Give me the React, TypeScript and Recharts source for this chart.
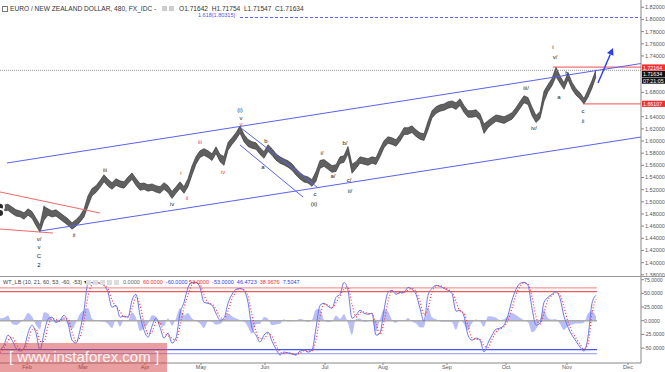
import React from 'react';
import { ComposedChart, Area, Line, XAxis, YAxis, ReferenceLine, ReferenceDot } from 'recharts';

// EUR/NZD 8h chart, bars bucketed in pairs of days; x is the bar slot
const lows = [
  1.4815, 1.4850, 1.4860, 1.4810, 1.4765, 1.4755, 1.4715, 1.4780, 1.4730, 1.4610,
  1.4500, 1.4700, 1.4780, 1.4750, 1.4765, 1.4715, 1.4665, 1.4615, 1.4550, 1.4600,
  1.4665, 1.4750, 1.4930, 1.5100, 1.5155, 1.5235, 1.5330, 1.5255, 1.5205, 1.5270,
  1.5240, 1.5225, 1.5300, 1.5370, 1.5270, 1.5190, 1.5205, 1.5175, 1.5190, 1.5160,
  1.5140, 1.5205, 1.5155, 1.5055, 1.5140, 1.5220, 1.5140, 1.5250, 1.5440, 1.5620,
  1.5730, 1.5765, 1.5730, 1.5680, 1.5795, 1.5660, 1.5600, 1.5850, 1.5945, 1.6025,
  1.6130, 1.5990, 1.5910, 1.5880, 1.5865, 1.5780, 1.5715, 1.5830, 1.5765, 1.5685,
  1.5635, 1.5605, 1.5570, 1.5520, 1.5440, 1.5375, 1.5325, 1.5310, 1.5255, 1.5340,
  1.5550, 1.5585, 1.5535, 1.5485, 1.5500, 1.5630, 1.5650, 1.5790, 1.5470, 1.5550,
  1.5635, 1.5620, 1.5600, 1.5635, 1.5615, 1.5740, 1.5890, 1.5965, 1.5945, 1.5915,
  1.5995, 1.6105, 1.6110, 1.6140, 1.6075, 1.6030, 1.6010, 1.6180, 1.6380, 1.6455,
  1.6490, 1.6505, 1.6540, 1.6555, 1.6520, 1.6585, 1.6470, 1.6390, 1.6390, 1.6405,
  1.6340, 1.6125, 1.6220, 1.6275, 1.6325, 1.6310, 1.6290, 1.6325, 1.6360, 1.6440,
  1.6535, 1.6630, 1.6600, 1.6420, 1.6305, 1.6370, 1.6650, 1.6810, 1.6910, 1.7060,
  1.6950, 1.6850, 1.7010, 1.6850, 1.6755, 1.6690, 1.6611, 1.6720, 1.6870, 1.7060,
];
const highs = [
  1.4920, 1.4945, 1.4960, 1.4915, 1.4870, 1.4850, 1.4820, 1.4885, 1.4840, 1.4730,
  1.4620, 1.4925, 1.4885, 1.4850, 1.4870, 1.4820, 1.4770, 1.4720, 1.4655, 1.4705,
  1.4775, 1.4880, 1.5100, 1.5220, 1.5265, 1.5350, 1.5445, 1.5370, 1.5315, 1.5380,
  1.5345, 1.5330, 1.5410, 1.5475, 1.5385, 1.5300, 1.5310, 1.5280, 1.5295, 1.5265,
  1.5250, 1.5315, 1.5265, 1.5170, 1.5250, 1.5330, 1.5250, 1.5380, 1.5590, 1.5745,
  1.5840, 1.5875, 1.5840, 1.5790, 1.5905, 1.5780, 1.5745, 1.5975, 1.6055, 1.6135,
  1.6250, 1.6110, 1.6025, 1.5990, 1.5970, 1.5890, 1.5825, 1.5940, 1.5875, 1.5790,
  1.5740, 1.5705, 1.5675, 1.5625, 1.5545, 1.5480, 1.5430, 1.5410, 1.5365, 1.5500,
  1.5680, 1.5695, 1.5645, 1.5595, 1.5610, 1.5740, 1.5760, 1.5910, 1.5620, 1.5660,
  1.5740, 1.5725, 1.5710, 1.5740, 1.5725, 1.5875, 1.6005, 1.6070, 1.6055, 1.6020,
  1.6105, 1.6220, 1.6220, 1.6250, 1.6185, 1.6135, 1.6120, 1.6325, 1.6500, 1.6565,
  1.6595, 1.6610, 1.6645, 1.6660, 1.6630, 1.6695, 1.6585, 1.6500, 1.6500, 1.6515,
  1.6450, 1.6280, 1.6335, 1.6385, 1.6430, 1.6415, 1.6400, 1.6430, 1.6465, 1.6550,
  1.6650, 1.6745, 1.6715, 1.6560, 1.6420, 1.6485, 1.6820, 1.6930, 1.7030, 1.7216,
  1.7070, 1.6960, 1.7125, 1.6965, 1.6860, 1.6795, 1.6700, 1.6845, 1.6995, 1.7175,
];

// WT_LB oscillator
const wtBlue = [
  -53.6, -44.5, -26.4, -35.5, -50, -55.5, -50, -22.7, -8.2, -22.7,
  -53.6, -22.7, 2.7, 6.4, -2.7, 0.9, 10, -4.5, -35.5, -40.9,
  -17.3, 19.1, 68.2, 70, 70, 68.2, 64.5, 51.8, 24.5, 28.2,
  6.4, 8.2, 6.4, 37.3, 48.2, 10, -17.3, -30, -10, 4.5,
  -11.8, -31.8, -22.7, -40.9, -31.8, 13.6, 33.6, 60.9, 70, 70,
  60.9, 33.6, 31.8, 28.2, 13.6, 0.9, 4.5, 31.8, 48.2, 57.3,
  59.1, 55.5, 33.6, -13.6, -26.4, -39.1, -26.4, -20.9, -37.3, -51.8,
  -62.7, -57.3, -59, -60.9, -62.7, -55.5, -53.6, -57.3, -53.6, -13.6,
  28.2, 31.8, 26.4, 22.7, 42.7, 48.2, 70, 55.5, 4.5, 10,
  19.1, 13.6, 11.8, 13.6, -26.4, -22.7, 19.1, 51.8, 55.5, 48.2,
  51.8, 51.8, 60.9, 57.3, 48.2, 22.7, -0.9, 46.4, 59.1, 64.5,
  62.7, 59.1, 55.5, 50, 17.3, 19.1, 8.2, -26.4, -35.5, -31.8,
  -35.5, -57, -40.9, -26.4, -15.5, -13.6, -8.2, 10, 37.3, 57.3,
  68.2, 70, 64.5, 22.7, -8.2, -4.5, 33.6, 42.7, 48.2, 53.6,
  40.9, 8.2, -11.8, -26.4, -37.3, -48.2, -55.5, -30, 31.8, 46.5,
];
const wtRed = [
  -58, -50, -36, -30, -42, -52, -53, -37, -16, -15,
  -38, -38, -10, 4, 2, -1, 5, 3, -20, -38,
  -30, 0, 45, 66, 70, 69, 66, 58, 38, 26,
  17, 7, 7, 22, 43, 29, -4, -24, -20, -3,
  -4, -22, -27, -32, -36, -9, 24, 47, 66, 70,
  66, 47, 33, 30, 21, 7, 3, 18, 40, 53,
  58, 57, 45, 10, -20, -33, -33, -24, -29, -45,
  -57, -60, -58, -60, -62, -59, -55, -55, -55, -34,
  7, 30, 29, 24, 33, 45, 58, 60, 30, 7,
  15, 16, 13, 13, -6, -25, -2, 35, 54, 52,
  50, 52, 56, 59, 53, 35, 11, 22, 53, 62,
  64, 61, 57, 53, 34, 18, 14, -9, -31, -34,
  -34, -46, -49, -34, -21, -15, -11, 1, 23, 47,
  63, 69, 67, 44, 7, -6, 14, 38, 46, 51,
  47, 25, -2, -19, -32, -43, -52, -43, 14, 39,
];
const wtHist = [
  4.4, 5.5, 9.6, -5.5, -8, -3.5, 3, 14.3, 7.8, -7.7,
  -15.6, 15.3, 12.7, 2.4, -4.7, 1.9, 5, -7.5, -15.5, -2.9,
  12.7, 19.1, 23.2, 4, 0, -0.8, -1.5, -6.2, -13.5, 2.2,
  -10.6, 1.2, -0.6, 15.3, 5.2, -19, -13.3, -6, 10, 7.5,
  -7.8, -9.8, 4.3, -8.9, 4.2, 22.6, 9.6, 13.9, 4, 0,
  -5.1, -13.4, -1.2, -1.8, -7.4, -6.1, 1.5, 13.8, 8.2, 4.3,
  1.1, -1.5, -11.4, -23.6, -6.4, -6.1, 6.6, 3.1, -8.3, -6.8,
  -5.7, 2.7, -1, -0.9, -0.7, 3.5, 1.4, -2.3, 1.4, 20.4,
  21.2, 1.8, -2.6, -1.3, 9.7, 3.2, 12, -4.5, -25.5, 3,
  4.1, -2.4, -1.2, 0.6, -20.4, 2.3, 21.1, 16.8, 1.5, -3.8,
  1.8, -0.2, 4.9, -1.7, -4.8, -12.3, -11.9, 24.4, 6.1, 2.5,
  -1.3, -1.9, -1.5, -3, -16.7, 1.1, -5.8, -17.4, -4.5, 2.2,
  -1.5, -11, 8.1, 7.6, 5.5, 1.4, 2.8, 9, 14.3, 10.3,
  5.2, 1, -2.5, -21.3, -15.2, 1.5, 19.6, 4.7, 2.2, 2.6,
  -6.1, -16.8, -9.8, -7.4, -5.3, -5.2, -3.5, 13, 17.8, 7.5,
];

const monthTicks = [6.75, 20.75, 36.25, 50.25, 66.25, 81.25, 95.75, 111.75, 126.5, 141.75, 157];
const monthLabels = ['Feb', 'Mar', 'Apr', 'May', 'Jun', 'Jul', 'Aug', 'Sep', 'Oct', 'Nov', 'Dec'];
// 1.66, 1.70 and 1.72 sit under the price tags, so they are not shown
const priceTicks = [1.38, 1.4, 1.42, 1.44, 1.46, 1.48, 1.5, 1.52, 1.54, 1.56, 1.58, 1.6, 1.62, 1.64, 1.68, 1.74, 1.76, 1.78, 1.8, 1.82];
const oscTicks = [75, 50, 25, 0, -25, -50];

// drawn lines: [x1, y1, x2, y2] in bar slot / price
const channelLines = [
  [1.75, 1.5639, 160.25, 1.7275],
  [10, 1.452, 160.25, 1.6066],
  [60.25, 1.6214, 79.25, 1.5244],
  [60, 1.5935, 75.75, 1.5079],
];
const redLines = [
  [0, 1.5162, 25, 1.4816],
  [0, 1.4553, 13.25, 1.4487],
];

// wave count labels: [text, slot, price, colour]
const waveLabels: [string, number, number, string][] = [
  ['v/', 9.75, 1.4388, '#222'], ['v', 9.75, 1.4257, '#222'], ['C', 9.75, 1.4109, '#222'], ['2', 9.75, 1.3961, '#222'],
  ['i', 11, 1.4915, '#222'], ['ii', 18.5, 1.4454, '#222'], ['iii', 26.25, 1.5524, '#222'], ['iv', 43, 1.4964, '#222'],
  ['i', 45.25, 1.5474, '#e53935'], ['ii', 46.75, 1.5063, '#e53935'], ['iii', 50, 1.5984, '#e53935'],
  ['iv', 55.75, 1.5491, '#e53935'], ['v', 60.25, 1.628, '#e53935'],
  ['(i)', 60, 1.6511, '#222'], ['v', 60.25, 1.6379, '#222'],
  ['a', 65.75, 1.5573, '#222'], ['b', 66.5, 1.6001, '#222'], ['c', 78.75, 1.5129, '#222'], ['(ii)', 78.5, 1.4964, '#222'],
  ['i/', 80.5, 1.5803, '#222'], ['a/', 83.25, 1.5425, '#222'], ['b/', 86.25, 1.5968, '#222'],
  ['c/', 87.25, 1.5359, '#222'], ['ii/', 87.5, 1.5178, '#222'],
  ['iii/', 131.5, 1.6872, '#222'], ['iv/', 133.5, 1.6214, '#222'],
  ['i', 138.25, 1.7547, '#222'], ['v/', 138.75, 1.7382, '#222'],
  ['a', 139.75, 1.6724, '#222'], ['b', 141.75, 1.7119, '#222'], ['c', 145.75, 1.6494, '#222'], ['ii', 145.75, 1.633, '#222'],
];

const priceData = lows.map((lo, i) => ({ i, range: [lo, highs[i]] }));
const oscData = wtBlue.map((b, i) => ({ i, b, r: wtRed[i], h: wtHist[i] }));

const W = 665;
const X_DOMAIN: [number, number] = [0, 160.25];
const LAST = 149.25;

const PriceTag = ({ viewBox, text, bg, dy = 0 }: any) => {
  const x = viewBox.x + viewBox.width + 1;
  const y = viewBox.y + dy;
  return (
    <g>
      <rect x={x} y={y - 3.2} width={23} height={6.2} fill={bg} />
      <text x={x + 1} y={y + 0.2} fontSize={5.3} fill="#fff" dominantBaseline="central">{text}</text>
    </g>
  );
};

const ArrowShape = (props: any) => {
  const { x1, y1, x2, y2 } = props;
  const a = Math.atan2(y2 - y1, x2 - x1);
  const L = 7, H = 3.5;
  const bx = x2 - L * Math.cos(a), by = y2 - L * Math.sin(a);
  const pts = `${x2},${y2} ${bx + H * Math.sin(a)},${by - H * Math.cos(a)} ${bx - H * Math.sin(a)},${by + H * Math.cos(a)}`;
  return (
    <g>
      <line x1={x1} y1={y1} x2={bx} y2={by} stroke="#2b3ef0" strokeWidth={1.4} />
      <polygon points={pts} fill="#2b3ef0" />
    </g>
  );
};

const small = { fontSize: 5.5, fill: '#555' };

export default function App() {
  return (
    <div style={{ position: 'absolute', left: 0, top: 0, width: W, height: 372, background: '#fff', fontFamily: 'Arial, "Liberation Sans", sans-serif', overflow: 'hidden' }}>
      <ComposedChart width={W} height={276} data={priceData} margin={{ top: 0, right: 0, bottom: 0, left: 0 }}>
        <XAxis type="number" dataKey="i" domain={X_DOMAIN} hide allowDataOverflow />
        <YAxis orientation="right" width={24} domain={[1.378, 1.832]} ticks={priceTicks} interval={0}
          tick={small} tickSize={3} tickMargin={1} tickLine={{ stroke: '#888' }} axisLine={{ stroke: '#888' }}
          tickFormatter={(v: number) => v.toFixed(5)} allowDataOverflow />

        <ReferenceLine segment={[{ x: 60, y: 1.80315 }, { x: 160.25, y: 1.80315 }]} stroke="#5a64f2" strokeDasharray="3 2" />
        <ReferenceLine y={1.71634} stroke="#999" strokeDasharray="1 1"
          label={(p: any) => (
            <g>
              <PriceTag viewBox={p.viewBox} text="1.71634" bg="#111" dy={3.8} />
              <PriceTag viewBox={p.viewBox} text="07:21:05" bg="#111" dy={10.4} />
            </g>
          )} />
        <ReferenceLine segment={[{ x: 138.25, y: 1.72164 }, { x: 160.25, y: 1.72164 }]} stroke="#f05050"
          label={(p: any) => <PriceTag viewBox={p.viewBox} text="1.72164" bg="#f23030" dy={0.5} />} />
        <ReferenceLine segment={[{ x: 145.75, y: 1.66107 }, { x: 160.25, y: 1.66107 }]} stroke="#f05050"
          label={(p: any) => <PriceTag viewBox={p.viewBox} text="1.66107" bg="#f23030" />} />

        {channelLines.map((l, k) => (
          <ReferenceLine key={`ch${k}`} segment={[{ x: l[0], y: l[1] }, { x: l[2], y: l[3] }]} stroke="#5a62f0" strokeWidth={1} />
        ))}
        {redLines.map((l, k) => (
          <ReferenceLine key={`rd${k}`} segment={[{ x: l[0], y: l[1] }, { x: l[2], y: l[3] }]} stroke="#f06a6a" strokeWidth={1} />
        ))}

        <Area dataKey="range" type="linear" fill="#606060" fillOpacity={1} stroke="#2a2a2a" strokeWidth={0.6} isAnimationActive={false} />

        <ReferenceLine segment={[{ x: 149.5, y: 1.6955 }, { x: 153.25, y: 1.753 }]} shape={ArrowShape} />

        {waveLabels.map(([t, x, y, c], k) => (
          <ReferenceDot key={`w${k}`} x={x} y={y} r={0}
            shape={(p: any) => (
              <text x={p.cx} y={p.cy} fontSize={6} fill={c} textAnchor="middle" dominantBaseline="central">{t}</text>
            )} />
        ))}
      </ComposedChart>

      <div style={{ position: 'absolute', left: 0, top: 276, width: W, height: 1, background: '#999' }} />

      <div style={{ position: 'absolute', left: 0, top: 277 }}>
        <ComposedChart width={W} height={95} data={oscData} margin={{ top: 0, right: 0, bottom: 0, left: 0 }}>
          <XAxis type="number" dataKey="i" domain={X_DOMAIN} ticks={monthTicks} interval={0} height={9}
            tick={{ fontSize: 5.5, fill: '#555' }} tickSize={2} tickMargin={0}
            tickLine={{ stroke: '#888' }} axisLine={{ stroke: '#888' }}
            tickFormatter={(v: number) => monthLabels[monthTicks.indexOf(v)]} allowDataOverflow />
          <YAxis orientation="right" width={24} domain={[-77.3, 79.9]} ticks={oscTicks} interval={0}
            tick={{ fontSize: 5.2, fill: '#555' }} tickSize={3} tickMargin={0}
            tickLine={{ stroke: '#888' }} axisLine={{ stroke: '#888' }}
            tickFormatter={(v: number) => v.toFixed(4)} allowDataOverflow />
          <Area dataKey="h" type="monotone" fill="#b2b7f6" fillOpacity={0.9} stroke="none" baseValue={0} isAnimationActive={false} />
          <ReferenceLine segment={[{ x: 0, y: 60 }, { x: LAST, y: 60 }]} stroke="#f39a9a" strokeWidth={1.2} />
          <ReferenceLine segment={[{ x: 0, y: 53 }, { x: LAST, y: 53 }]} stroke="#ee5a5a" strokeWidth={1.2} />
          <ReferenceLine segment={[{ x: 0, y: 0 }, { x: LAST, y: 0 }]} stroke="#aaa" strokeWidth={1.4} />
          <ReferenceLine segment={[{ x: 0, y: -53 }, { x: LAST, y: -53 }]} stroke="#4a56ee" strokeWidth={1.2} />
          <ReferenceLine segment={[{ x: 0, y: -60 }, { x: LAST, y: -60 }]} stroke="#a5abf5" strokeWidth={1.2} />
          <Line dataKey="b" type="monotone" stroke="#6b74f6" strokeWidth={1} dot={false} isAnimationActive={false} />
          <Line dataKey="r" type="monotone" stroke="#f33" strokeWidth={1.2} strokeDasharray="1 2" dot={false} isAnimationActive={false} />
        </ComposedChart>
      </div>

      {/* header texts */}
      <div style={{ position: 'absolute', left: 2, top: 6, width: 4, height: 4, border: '0.8px solid #777' }} />
      <div style={{ position: 'absolute', left: 10, top: 5.5, fontSize: 6.6, lineHeight: 1, color: '#333', whiteSpace: 'nowrap' }}>
        EURO / NEW ZEALAND DOLLAR, 480, FX_IDC -
      </div>
      <div style={{ position: 'absolute', left: 162, top: 6, width: 5, height: 5, background: '#ccc' }} />
      <div style={{ position: 'absolute', left: 169, top: 6, width: 5, height: 5, background: '#ccc' }} />
      <div style={{ position: 'absolute', left: 179, top: 5.5, fontSize: 6.6, lineHeight: 1, color: '#333', whiteSpace: 'nowrap' }}>
        O1.71642&nbsp; H1.71754&nbsp; L1.71547&nbsp; C1.71634
      </div>
      <div style={{ position: 'absolute', left: 198, top: 12.5, fontSize: 5.5, lineHeight: 1, color: '#4a55f0', whiteSpace: 'nowrap' }}>
        1.618(1.80315)
      </div>

      <div style={{ position: 'absolute', left: 3, top: 279.5, fontSize: 5.5, lineHeight: 1, color: '#444', whiteSpace: 'nowrap' }}>
        WT_LB (10, 21, 60, 53, -60, -53) ▾
      </div>
      {[86, 93, 100, 107, 114].map((x) => (
        <div key={x} style={{ position: 'absolute', left: x, top: 280, width: 5, height: 5, background: '#ddd' }} />
      ))}
      <div style={{ position: 'absolute', left: 123, top: 279.5, fontSize: 5.5, lineHeight: 1, whiteSpace: 'nowrap' }}>
        <span style={{ color: '#666' }}>0.0000</span>&nbsp;&nbsp;
        <span style={{ color: '#f03030' }}>60.0000</span>&nbsp;&nbsp;
        <span style={{ color: '#3040f0' }}>-60.0000</span>&nbsp;
        <span style={{ color: '#f03030' }}>53.0000</span>&nbsp;&nbsp;
        <span style={{ color: '#3040f0' }}>-53.0000</span>&nbsp;&nbsp;
        <span style={{ color: '#3040f0' }}>46.4723</span>&nbsp;&nbsp;
        <span style={{ color: '#f03030' }}>38.9676</span>&nbsp;&nbsp;
        <span style={{ color: '#3040f0' }}>7.5047</span>
      </div>

      {/* watermark */}
      <div style={{ position: 'absolute', left: 0, top: 343, width: 167, height: 29, background: 'rgba(212, 64, 64, 0.5)' }} />
      <div style={{ position: 'absolute', left: 9, top: 349, fontSize: 15, lineHeight: 1, color: 'rgba(255,255,255,0.9)', whiteSpace: 'nowrap' }}>
        [ www.instaforex.com ]
      </div>
    </div>
  );
}
